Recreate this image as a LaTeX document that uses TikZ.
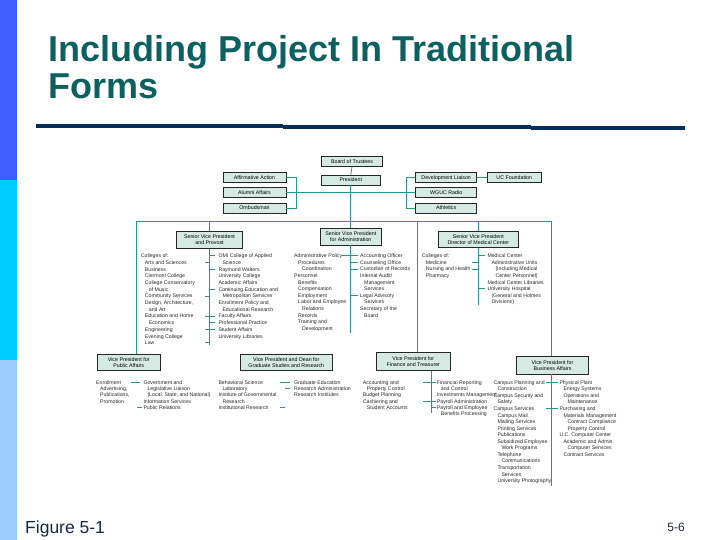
\documentclass[tikz,border=0pt]{standalone}
\usepackage{fontspec}
\setmainfont{Liberation Sans}
\usepackage{tikz}

\definecolor{titleteal}{RGB}{12,96,96}
\definecolor{rulenavy}{RGB}{5,45,90}
\definecolor{stripblue}{RGB}{61,94,255}
\definecolor{stripcyan}{RGB}{0,204,255}
\definecolor{striplight}{RGB}{153,204,255}
\definecolor{boxfill}{RGB}{214,234,228}
\definecolor{linkteal}{RGB}{40,150,140}
\definecolor{figtext}{RGB}{20,40,70}
\definecolor{listgray}{RGB}{40,40,40}

\newcommand{\titlefont}{\fontsize{36bp}{40bp}\bfseries\selectfont}
\newcommand{\boxfont}{\fontsize{5.3bp}{6.2bp}\selectfont}
\newcommand{\listfont}[1]{\fontsize{5.2bp}{#1bp}\selectfont}
\newcommand{\ind}{\hspace*{4bp}}

\tikzset{
  orgbox/.style={draw=black!85, fill=boxfill, line width=0.6bp, inner sep=0pt, align=center, font=\boxfont},
  conn/.style={draw=linkteal, line width=0.8bp},
  orglist/.style={anchor=north west, inner sep=0pt, align=left, text=listgray, font=\listfont{#1}},
}

\begin{document}
\begin{tikzpicture}[x=1bp,y=-1bp]
\useasboundingbox (0,0) rectangle (720,540);

% side strip
\fill[stripblue] (0,0) rectangle (17,180);
\fill[stripcyan] (0,180) rectangle (17,360);
\fill[striplight] (0,360) rectangle (17,540);

% title
\node[anchor=base west, inner sep=0pt, text=titleteal, font=\titlefont] (title1) at (48,62) {Including Project In Traditional};
\node[anchor=base west, inner sep=0pt, text=titleteal, font=\titlefont] (title2) at (48,99) {Forms};
\draw[rulenavy, line width=3.5bp] (36,126) -- (283,126);
\draw[rulenavy, line width=3.5bp] (283,127) -- (531,127);
\draw[rulenavy, line width=3.5bp] (531,128) -- (685,128);

% footer
\node[anchor=base west, inner sep=0pt, text=figtext, font=\fontsize{17.5bp}{20bp}\selectfont] (figno) at (25,533) {Figure 5-1};
\node[anchor=base east, inner sep=0pt, text=figtext, font=\fontsize{12bp}{14bp}\selectfont] (pageno) at (685,531) {5-6};

% top of the chart
\node[orgbox, minimum width=60.6bp, minimum height=10.7bp] (board) at (352,161.3) {Board of Trustees};
\node[orgbox, minimum width=58.3bp, minimum height=10bp] (pres) at (350.8,180) {President};
\node[orgbox, minimum width=63bp, minimum height=10bp] (affirm) at (254.5,177.7) {Affirmative Action};
\node[orgbox, minimum width=63bp, minimum height=10bp] (alumni) at (254.5,192.7) {Alumni Affairs};
\node[orgbox, minimum width=63bp, minimum height=10bp] (ombud) at (254.5,208) {Ombudsman};
\node[orgbox, minimum width=61bp, minimum height=10bp] (devl) at (446.2,177.7) {Development Liaison};
\node[orgbox, minimum width=53.3bp, minimum height=10bp] (ucf) at (514.3,177.7) {UC Foundation};
\node[orgbox, minimum width=61bp, minimum height=10bp] (wguc) at (446.2,192.7) {WGUC Radio};
\node[orgbox, minimum width=61bp, minimum height=10bp] (athl) at (446.2,208) {Athletics};

\coordinate (lspine) at (296,0);
\coordinate (rspine) at (406.7,0);
\coordinate (barL) at (136,221);
\coordinate (barR) at (551,221);
\coordinate (findrop) at (417,221);

\draw[conn] (board.south) -- (pres.north);
\draw[conn] (pres.south) -- (pres.south |- barL);
\draw[conn] (affirm.east) -- (affirm.east -| lspine) -- (ombud.east -| lspine) -- (ombud.east);
\draw[conn] (alumni.east) -- (wguc.west);
\draw[conn] (devl.west) -- (devl.west -| rspine) -- (athl.west -| rspine) -- (athl.west);
\draw[conn] (devl.east) -- (ucf.west);
\draw[conn] (barL) -- (barR);

% senior vice presidents
\node[orgbox, minimum width=65.8bp, minimum height=16.8bp] (provost) at (209.5,240) {Senior Vice President\\and Provost};
\node[orgbox, minimum width=61.7bp, minimum height=16.7bp] (admin) at (350.8,236.7) {Senior Vice President\\for Administration};
\node[orgbox, minimum width=80bp, minimum height=16bp] (medctr) at (478.3,239.7) {Senior Vice President\\Director of Medical Center};

% vice presidents
\node[orgbox, minimum width=62.7bp, minimum height=16.7bp] (pubaff) at (128.7,362.3) {Vice President for\\Public Affairs};
\node[orgbox, minimum width=92.7bp, minimum height=16.7bp] (gradres) at (286.3,362.3) {Vice President and Dean for\\Graduate Studies and Research};
\node[orgbox, minimum width=73.3bp, minimum height=18bp] (finance) at (413.3,361.7) {Vice President for\\Finance and Treasurer};
\node[orgbox, minimum width=71.6bp, minimum height=17.3bp] (busaff) at (552.5,365.3) {Vice President for\\Business Affairs};

\draw[conn] (barL) -- (barL |- pubaff.north);
\draw[conn] (provost.north |- barL) -- (provost.north);
\draw[conn] (admin.north |- barL) -- (admin.north);
\draw[conn] (findrop) -- (findrop |- finance.north);
\draw[conn] (medctr.north |- barL) -- (medctr.north);
\draw[conn] (barR) -- (barR |- busaff.north);

% provost
\coordinate (provsp) at (209.5,255.7);
\draw[conn] (provost.south) -- (provost.south |- 0,345);
\node[orglist=6.7] (provL) at (140.7,253.7) {Colleges of:\\\ind Arts and Sciences\\\ind Business\\\ind Clermont College\\\ind College Conservatory\\\ind\ind of Music\\\ind Community Services\\\ind Design, Architecture,\\\ind\ind and Art\\\ind Education and Home\\\ind\ind Economics\\\ind Engineering\\\ind Evening College\\\ind Law};
\node[orglist=6.7] (provR) at (218.3,253.7) {OMI College of Applied\\\ind Science\\Raymond Walters\\University College\\Academic Affairs\\Continuing Education and\\\ind Metropolitan Services\\Enrollment Policy and\\\ind Educational Research\\Faculty Affairs\\Professional Practice\\Student Affairs\\University Libraries};
\foreach \i in {1,6,9,11,13}
  \draw[conn] (provsp) ++(0,\i*6.7) -- ++(-5,0);
\foreach \i in {0,2,5,9,10,11}
  \draw[conn] (provsp) ++(0,\i*6.7) -- ++(5,0);

% administration
\coordinate (admsp) at (350.8,255.7);
\draw[conn] (admin.south) -- (admin.south |- 0,333);
\node[orglist=6.6] (admL) at (294,253.7) {Administrative Policy\\\ind Procedures\\\ind\ind Coordination\\Personnel\\\ind Benefits\\\ind Compensation\\\ind Employment\\\ind Labor and Employee\\\ind\ind Relations\\\ind Records\\\ind Training and\\\ind\ind Development};
\node[orglist=6.6] (admR) at (360,253.7) {Accounting Officer\\Counseling Office\\Custodian of Records\\Internal Audit/\\\ind Management\\\ind Services\\Legal Advisory\\\ind Services\\Secretary of the\\\ind Board};
\draw[conn] (admsp) -- ++(-9,0);
\foreach \i in {0,1,2,6}
  \draw[conn] (admsp) ++(0,\i*6.6) -- ++(7,0);

% medical center
\coordinate (medsp) at (478.3,255.7);
\draw[conn] (medctr.south) -- (medctr.south |- 0,305);
\node[orglist=6.6] (medL) at (421.7,253.7) {Colleges of:\\\ind Medicine\\\ind Nursing and Health\\\ind Pharmacy};
\node[orglist=6.6] (medR) at (487.3,253.7) {Medical Center\\\ind Administrative Units\\\ind\ind (Including Medical\\\ind\ind Center Personnel)\\Medical Center Libraries\\University Hospital\\\ind (General and Holmes\\\ind Divisions)};
\foreach \i in {1,2}
  \draw[conn] (medsp) ++(0,\i*6.6) -- ++(-6,0);
\foreach \i in {0,5}
  \draw[conn] (medsp) ++(0,\i*6.6) -- ++(7,0);

% public affairs
\coordinate (pasp) at (130.7,382.3);
\node[orglist=6.3] (paL) at (96,380.3) {Enrollment\\\ind Advertising,\\\ind Publications,\\\ind Promotion};
\node[orglist=6.3] (paR) at (143.3,380.3) {Government and\\\ind Legislative Liaison\\\ind (Local, State, and National)\\Information Services\\Public Relations};
\draw[conn] (pasp) -- ++(9.3,0);
\draw[conn] (pasp) ++(6,4*6.3) -- ++(5,0);

% graduate studies
\coordinate (grsp) at (280,382.3);
\node[orglist=6.3] (grL) at (218.3,380.3) {Behavioral Science\\\ind Laboratory\\Institute of Governmental\\\ind Research\\Institutional Research};
\node[orglist=6.3] (grR) at (294,380.3) {Graduate Education\\Research Administration\\Research Institutes};
\draw[conn] (grsp) -- ++(10,0);
\draw[conn] (grsp) ++(5,6.3) -- ++(5,0);
\draw[conn] (grsp) ++(0,4*6.3) -- ++(5,0);

% finance
\coordinate (finsp) at (431.7,382.3);
\draw[conn] (finance.south -| finsp) -- (finsp |- 0,413);
\node[orglist=6.3] (finL) at (362.7,380.3) {Accounting and\\\ind Property Control\\Budget Planning\\Cashiering and\\\ind Student Accounts};
\node[orglist=6.3] (finR) at (436.7,380.3) {Financial Reporting\\\ind and Control\\Investments Management\\Payroll Administration\\Payroll and Employee\\\ind Benefits Processing};
\foreach \i in {0,3}
  \draw[conn] (finsp) ++(0,\i*6.3) -- ++(-9,0);
\foreach \i in {0,3,4}
  \draw[conn] (finsp) ++(0,\i*6.3) -- ++(4,0);

% business affairs
\coordinate (bussp) at (551,382.3);
\draw[conn] (busaff.south -| bussp) -- (bussp |- 0,486);
\node[orglist=6.56] (busL) at (493.3,380.3) {Campus Planning and\\\ind Construction\\Campus Security and\\\ind Safety\\Campus Services\\\ind Campus Mail\\\ind Mailing Services\\\ind Printing Services\\\ind Publications\\\ind Subsidized Employee\\\ind\ind Work Programs\\\ind Telephone\\\ind\ind Communications\\\ind Transportation\\\ind\ind Services\\\ind University Photography};
\node[orglist=6.56] (busR) at (559.3,380.3) {Physical Plant\\\ind Energy Systems\\\ind Operations and\\\ind\ind Maintenance\\Purchasing and\\\ind Materials Management\\\ind\ind Contract Compliance\\\ind\ind Property Control\\U.C. Computer Center\\\ind Academic and Admin.\\\ind\ind Computer Services\\\ind Contract Services};
\foreach \i in {0,4}
  \draw[conn] (bussp) ++(0,\i*6.56) -- ++(-5.5,0);
\foreach \i in {0,4}
  \draw[conn] (bussp) ++(0,\i*6.56) -- ++(7,0);

\end{tikzpicture}
\end{document}
